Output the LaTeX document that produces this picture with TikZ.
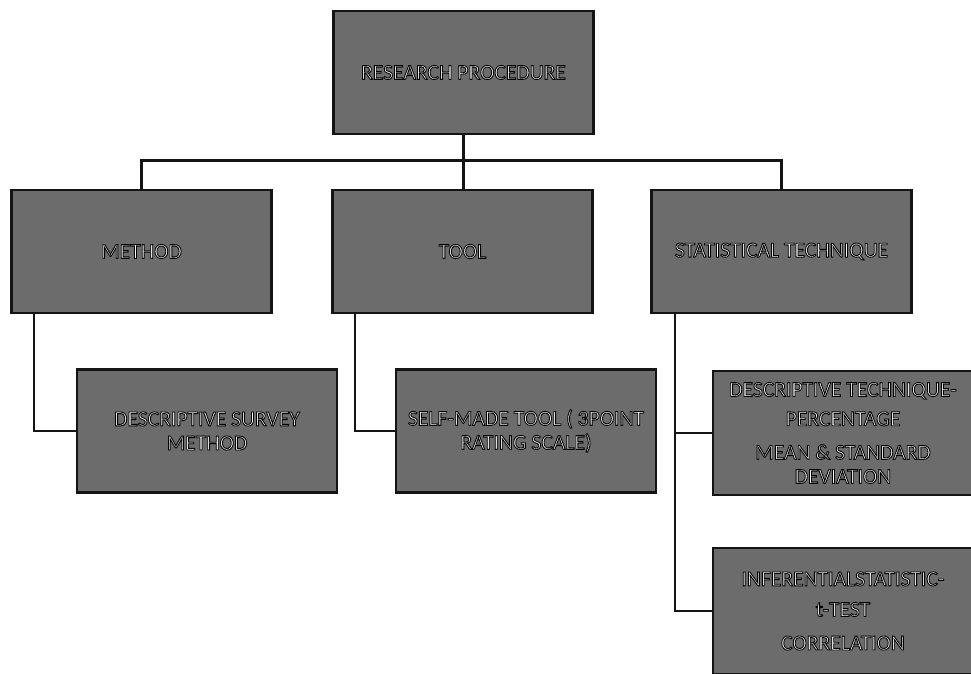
\documentclass[tikz,border=0pt]{standalone}
\usepackage{fontspec}
\setmainfont{Carlito}
\usepackage{tikz}
\usetikzlibrary{calc}
\definecolor{boxgray}{RGB}{108,108,108}
\definecolor{inkline}{RGB}{20,20,20}
% white letters with a dark rim
\newcommand{\rimtext}[1]{\special{pdf:literal direct 0 G 0.5 w 2 Tr}#1\special{pdf:literal direct 0 Tr}}

\begin{document}
\begin{tikzpicture}[line cap=round,
  box/.style={draw=inkline,line width=1.6pt,fill=boxgray,minimum width=5.2cm,minimum height=2.46cm,
    align=center,text=white,font=\fontsize{12.3}{13.7}\selectfont},
  link/.style={draw=inkline,line width=1.4pt,line cap=butt}]
  \useasboundingbox (0,0) rectangle (19.42,13.48);
  % top of the tree
  \node[box] (root) at (9.27,12.03) {\rimtext{RESEARCH PROCEDURE}};
  % second row
  \foreach \name/\x/\txt in {method/2.83/METHOD,tool/9.25/TOOL,stat/15.63/STATISTICAL TECHNIQUE}{
    \node[box] (\name) at (\x,8.45) {\rimtext{\txt}};
  }
  % third row
  \node[box] (survey) at (4.14,4.86) {\rimtext{DESCRIPTIVE SURVEY\\METHOD}};
  \node[box] (selfmade) at (10.52,4.86) {\rimtext{SELF-MADE TOOL ( 3POINT\\RATING SCALE)}};
  \node[box,minimum height=2.48cm] (desc) at (16.86,4.82) {\rimtext{DESCRIPTIVE TECHNIQUE-\\[3pt]
    PERCENTAGE\\[5.4pt]MEAN \& STANDARD\\DEVIATION}};
  \node[box,minimum height=2.52cm] (infer) at (16.86,1.26) {\rimtext{INFERENTIALSTATISTIC-\\[3.7pt]
    t-TEST\\[5.4pt]CORRELATION}};
  % connectors
  \draw[link] (root.south) -- (root.south |- tool.north);
  \draw[link] (method.north) -- ++(0,0.56) -| (stat.north);
  \draw[link] ([xshift=0.48cm]method.south west) |- (survey.west);
  \draw[link] ([xshift=0.48cm]tool.south west) |- (selfmade.west);
  \draw[link] ([xshift=0.5cm]stat.south west) |- (desc.west);
  \draw[link] ([xshift=0.5cm]stat.south west) |- (infer.west);
\end{tikzpicture}
\end{document}
